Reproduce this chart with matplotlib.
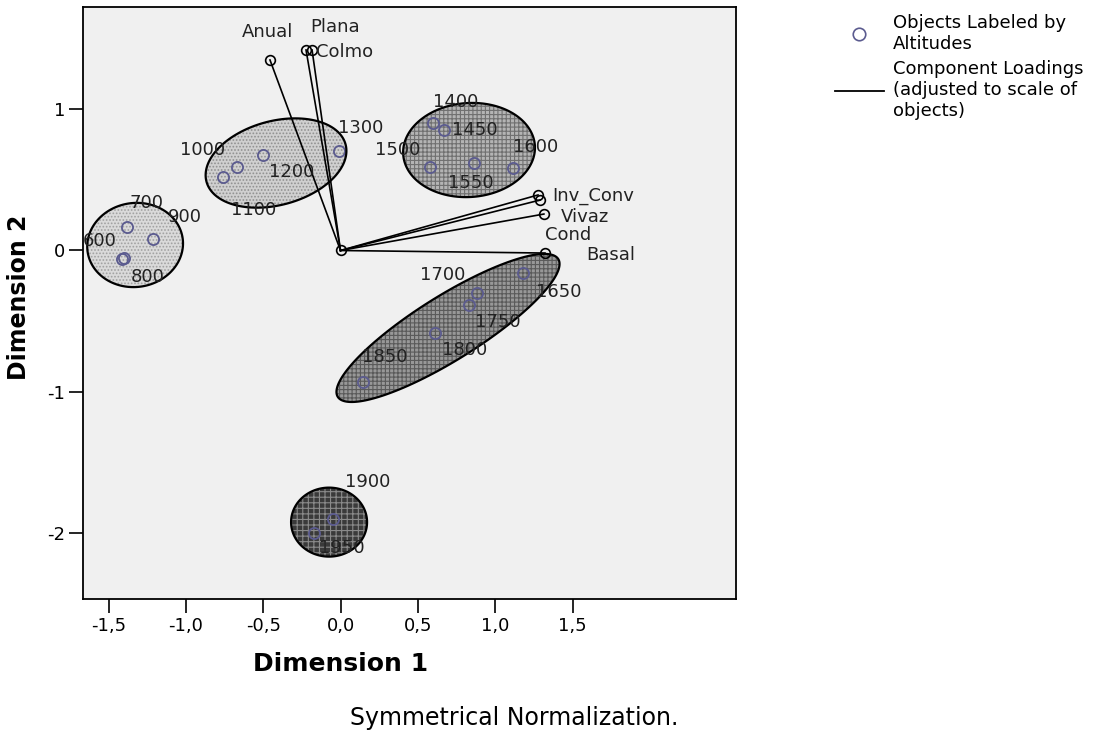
import numpy as np
import matplotlib
matplotlib.use("Agg")
import matplotlib.pyplot as plt
from matplotlib.lines import Line2D
from matplotlib.patches import Polygon
from matplotlib.transforms import offset_copy

# object scores (labeled by altitude)
altitudes = ["600", "700", "800", "900", "1000", "1100", "1200", "1300",
             "1400", "1450", "1500", "1550", "1600", "1650", "1700", "1750",
             "1800", "1850", "1900", "1950"]
obj_dim1 = [-1.40, -1.38, -1.41, -1.21, -0.76, -0.67, -0.50, -0.01,
            0.60, 0.67, 0.58, 0.86, 1.115, 1.18, 0.88, 0.83,
            0.61, 0.145, -0.05, -0.17]
obj_dim2 = [-0.05, 0.166, -0.06, 0.081, 0.52, 0.59, 0.676, 0.704,
            0.90, 0.85, 0.59, 0.62, 0.584, -0.16, -0.30, -0.386,
            -0.584, -0.93, -1.90, -2.00]

# component loadings
variables = ["Anual", "Plana", "Colmo", "Inv_Conv", "Cond", "Vivaz", "Basal"]
load_dim1 = [-0.456, -0.223, -0.184, 1.277, 1.29, 1.315, 1.322]
load_dim2 = [1.348, 1.419, 1.419, 0.393, 0.357, 0.258, -0.018]

# label offsets in pixels (dx, dy)
obj_offsets = {"600": (-24, 17), "700": (19, 24), "800": (25, -18), "900": (32, 22),
               "1000": (-20, 27), "1100": (17, -43), "1200": (29, -17), "1300": (22, 23),
               "1400": (22, 21), "1450": (31, 0), "1500": (-33, 17), "1550": (-3, -20),
               "1600": (23, 21), "1650": (36, -19), "1700": (-34, 18), "1750": (29, -17),
               "1800": (30, -17), "1850": (22, 25), "1900": (35, 37), "1950": (28, -15)}
load_offsets = {"Anual": (-2, 28), "Plana": (29, 23), "Colmo": (33, -2),
                "Inv_Conv": (55, -1), "Cond": (28, -35), "Vivaz": (41, -3),
                "Basal": (66, -2)}

# ellipses drawn around the altitude groups: center, semi-axes (px), angle, fill, hatch
blob_style = [((-1.328, 0.039), 48, 42, 8, "#dadada", "#a0a0a0", "....."),
              ((-0.417, 0.619), 72, 42, 15, "#d0d0d0", "#909090", "....."),
              ((0.831, 0.711), 66, 47, 4, "#b4b4b4", "#707070", "++++"),
              ((0.695, -0.548), 130, 32, 32, "#989898", "#5a5a5a", "++++"),
              ((-0.074, -1.922), 38, 34.5, 0, "#3a3a3a", "#8a8a8a", "+++")]

obj_color = "#5b5b8f"

fig = plt.figure(figsize=(11.13, 7.35), dpi=100)
ax = fig.add_axes([83 / 1113, 136 / 735, 653 / 1113, 592 / 735])
ax.set_facecolor("#f0f0f0")
ax.set_xlim(-1.665, 2.557)
ax.set_ylim(-2.466, 1.723)

# pixels per data unit, so the ellipses look right on screen
fig.canvas.draw()
p0 = ax.transData.transform((0, 0))
p1 = ax.transData.transform((1, 1))
sx, sy = p1[0] - p0[0], p1[1] - p0[1]

plt.rcParams["hatch.linewidth"] = 0.8
t = np.linspace(0, 2 * np.pi, 200)
for (c, a, b, ang, fc, hc, hatch) in blob_style:
    th = np.deg2rad(ang)
    px = a * np.cos(t) * np.cos(th) - b * np.sin(t) * np.sin(th)
    py = a * np.cos(t) * np.sin(th) + b * np.sin(t) * np.cos(th)
    pts = np.column_stack([c[0] + px / sx, c[1] + py / sy])
    ax.add_patch(Polygon(pts, closed=True, facecolor=fc, edgecolor="none", zorder=1))
    ax.add_patch(Polygon(pts, closed=True, facecolor="none", edgecolor=hc,
                         hatch=hatch, linewidth=0, zorder=1.1))
    ax.add_patch(Polygon(pts, closed=True, facecolor="none", edgecolor="black",
                         linewidth=1.6, zorder=1.2))

# loadings: lines from origin
for x, y in zip(load_dim1, load_dim2):
    ax.plot([0, x], [0, y], color="black", lw=1.2, zorder=2)
ax.plot(load_dim1, load_dim2, "o", ms=7, mfc="none", mec="black", mew=1.2, zorder=3)
ax.plot([0], [0], "o", ms=7, mfc="none", mec="black", mew=1.2, zorder=3)

# objects
ax.plot(obj_dim1, obj_dim2, "o", ms=8, mfc="none", mec=obj_color, mew=1.3, zorder=1.15)

for lab, x, y in zip(altitudes, obj_dim1, obj_dim2):
    dx, dy = obj_offsets[lab]
    tr = offset_copy(ax.transData, fig=fig, x=dx, y=dy, units="dots")
    ax.text(x, y, lab, transform=tr, ha="center", va="center", fontsize=13,
            color="#222222", zorder=4)

for lab, x, y in zip(variables, load_dim1, load_dim2):
    dx, dy = load_offsets[lab]
    tr = offset_copy(ax.transData, fig=fig, x=dx, y=dy, units="dots")
    ax.text(x, y, lab, transform=tr, ha="center", va="center", fontsize=13,
            color="#222222", zorder=4)

xt = [-1.5, -1.0, -0.5, 0.0, 0.5, 1.0, 1.5]
ax.set_xticks(xt)
ax.set_xticklabels([f"{v:.1f}".replace(".", ",") for v in xt])
yt = [1, 0, -1, -2]
ax.set_yticks(yt)
ax.set_yticklabels([str(v) for v in yt])
ax.tick_params(direction="out", length=10, width=1.2, labelsize=13, pad=3)
for s in ax.spines.values():
    s.set_linewidth(1.3)

ax.set_xlabel("Dimension 1", fontsize=18, fontweight="bold")
ax.xaxis.set_label_coords(0.394, -0.09)
ax.set_ylabel("Dimension 2", fontsize=17, fontweight="bold")
ax.yaxis.set_label_coords(-0.08, 0.51)

handles = [Line2D([], [], marker="o", ls="none", ms=9, mfc="none", mec=obj_color, mew=1.2),
           Line2D([], [], color="black", lw=1.3)]
labels = ["Objects Labeled by\nAltitudes",
          "Component Loadings\n(adjusted to scale of\nobjects)"]
fig.legend(handles, labels, loc="upper left", bbox_to_anchor=(835 / 1113, 1 - 14 / 735),
           frameon=False, fontsize=13, handlelength=2.7, handletextpad=0.5,
           labelspacing=0.4, borderpad=0, borderaxespad=0)

fig.text(514 / 1113, 1 - 718 / 735, "Symmetrical Normalization.", ha="center",
         va="center", fontsize=17)

fig.savefig("out.png", dpi=100)
